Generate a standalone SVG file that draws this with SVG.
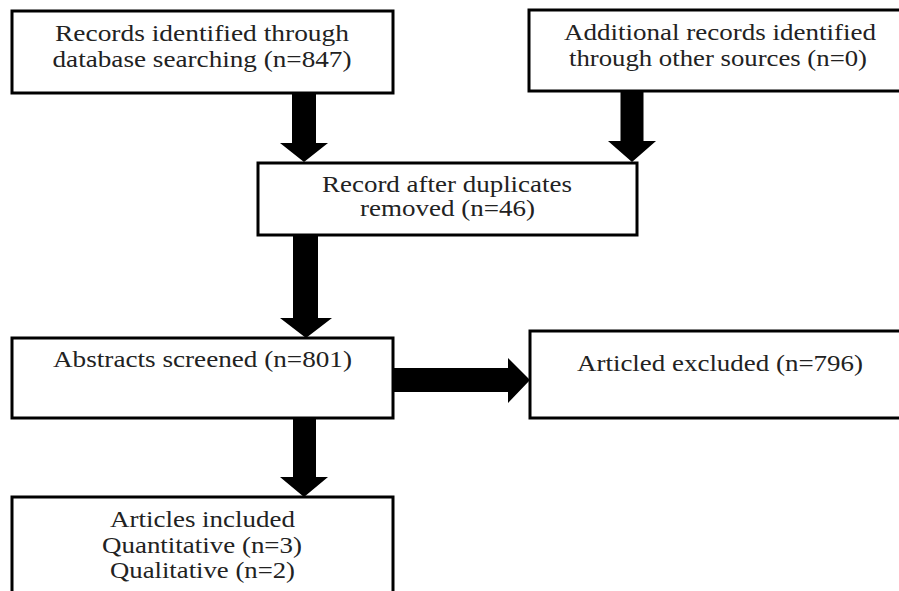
<svg xmlns="http://www.w3.org/2000/svg" width="899" height="591" viewBox="0 0 899 591">
<style>
.box{fill:#fff;stroke:#000;stroke-width:3}
.t{font-size:23.5px;fill:#222;text-anchor:middle}
.arrow{fill:#000;stroke:none}
</style>
<rect width="899" height="591" fill="#fff"/>
<g id="connectors">
<path class="arrow" d="M292,92 H316 V143 H328 L304,162 L280,143 H292 Z"/>
<path class="arrow" d="M620.5,90 H643.5 V141 H656 L632,162 L608,141 H620.5 Z"/>
<path class="arrow" d="M293,234 H318 V318 H332 L306,338 L280,318 H293 Z"/>
<path class="arrow" d="M293,417 H316 V477 H328 L304,497 L280,477 H293 Z"/>
<path class="arrow" d="M392,368 H508 V358 L530,380 L508,403 V392 H392 Z"/>
</g>
<g font-family="Liberation Serif">
<g id="n1">
<rect class="box" x="12" y="11" width="381" height="82"/>
<text class="t" x="202" y="41" textLength="294" lengthAdjust="spacingAndGlyphs">Records identified through</text>
<text class="t" x="202" y="66.5" textLength="299" lengthAdjust="spacingAndGlyphs">database searching (n=847)</text>
</g>
<g id="n2">
<rect class="box" x="529" y="10" width="382" height="81"/>
<text class="t" x="720" y="39.5" textLength="312" lengthAdjust="spacingAndGlyphs">Additional records identified</text>
<text class="t" x="718" y="66" textLength="298" lengthAdjust="spacingAndGlyphs">through other sources (n=0)</text>
</g>
<g id="n3">
<rect class="box" x="258" y="163" width="379" height="72"/>
<text class="t" x="447" y="192" textLength="250" lengthAdjust="spacingAndGlyphs">Record after duplicates</text>
<text class="t" x="447.5" y="216" textLength="175" lengthAdjust="spacingAndGlyphs">removed (n=46)</text>
</g>
<g id="n4">
<rect class="box" x="12" y="338" width="381" height="80"/>
<text class="t" x="202.5" y="367" textLength="299" lengthAdjust="spacingAndGlyphs">Abstracts screened (n=801)</text>
</g>
<g id="n5">
<rect class="box" x="530" y="331" width="381" height="87"/>
<text class="t" x="720" y="371" textLength="286" lengthAdjust="spacingAndGlyphs">Articled excluded (n=796)</text>
</g>
<g id="n6">
<rect class="box" x="12" y="497" width="381" height="110"/>
<text class="t" x="202.5" y="527" textLength="185" lengthAdjust="spacingAndGlyphs">Articles included</text>
<text class="t" x="202" y="553" textLength="200" lengthAdjust="spacingAndGlyphs">Quantitative (n=3)</text>
<text class="t" x="202.5" y="578" textLength="185" lengthAdjust="spacingAndGlyphs">Qualitative (n=2)</text>
</g>
</g>
</svg>
